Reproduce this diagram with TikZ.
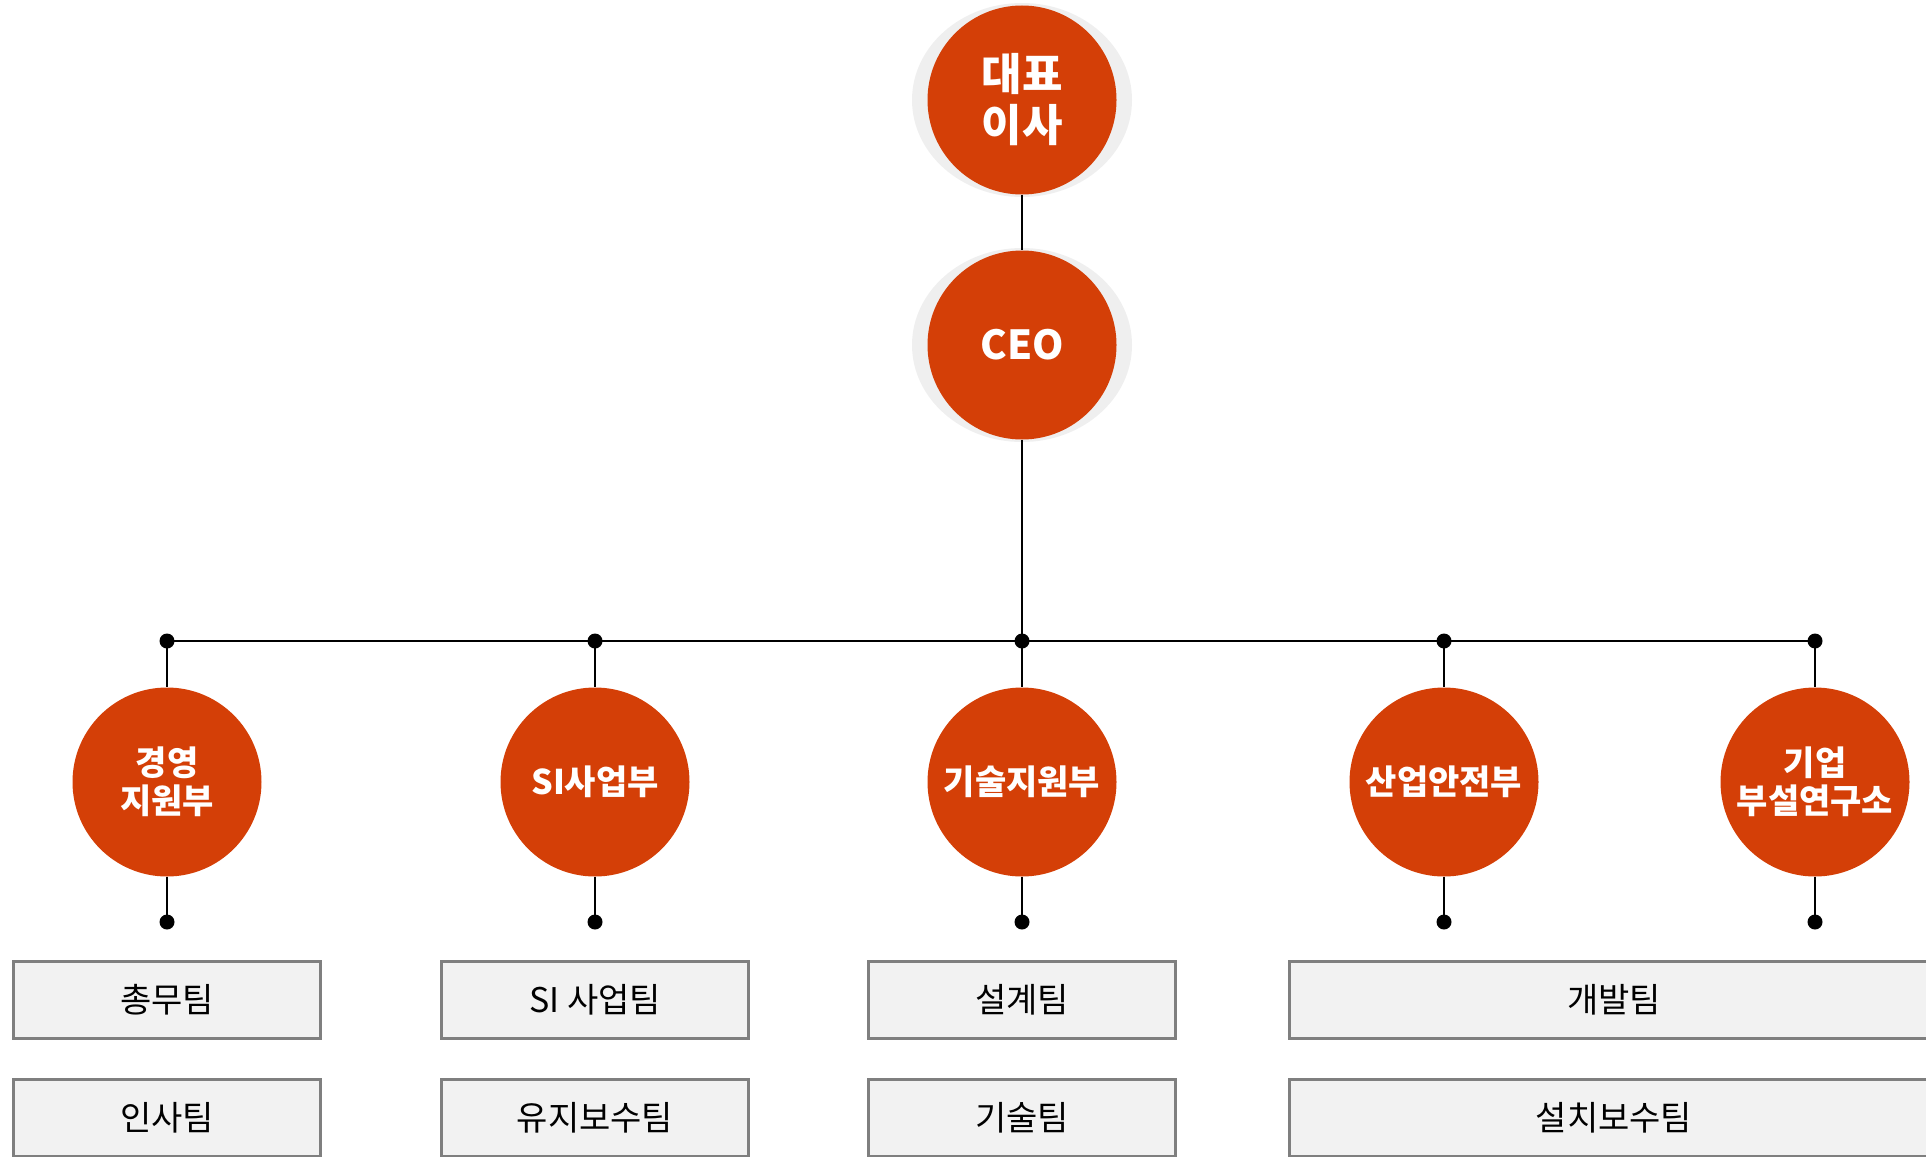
\documentclass[tikz,border=0pt]{standalone}
\usepackage{fontspec}
\usetikzlibrary{shapes.geometric}
\newfontfamily\kr{Noto Sans CJK KR}
\definecolor{orgc}{HTML}{D43F07}
\definecolor{haloc}{HTML}{EFEFEF}
\definecolor{boxfill}{HTML}{F2F2F2}
\definecolor{boxline}{HTML}{7F7F7F}
\begin{document}
\begin{tikzpicture}[x=0.5pt,y=-0.5pt,
  org/.style={circle,fill=orgc,inner sep=0pt,minimum size=94.5pt,text=white,align=center,
    font=\kr\bfseries\fontsize{17}{18.8}\selectfont},
  topc/.style={org,font=\kr\bfseries\fontsize{22}{25.5}\selectfont},
  ceoc/.style={org,font=\kr\bfseries\fontsize{20}{25.5}\selectfont},
  halo/.style={ellipse,fill=haloc,inner sep=0pt,minimum width=110pt,minimum height=97pt},
  team/.style={draw=boxline,line width=1.5pt,fill=boxfill,minimum width=153.5pt,minimum height=38.5pt,
    inner sep=0pt,font=\kr\fontsize{17}{19}\selectfont},
  wide/.style={team,minimum width=324.5pt},
  link/.style={line width=1.3pt,black},
  dotc/.style={circle,fill=black,inner sep=0pt,minimum size=7.5pt}
]
\useasboundingbox (0,0) rectangle (1926,1156);
\clip (0,0) rectangle (1926,1156);

% top circles
\node[halo] (h1) at (1022,100) {};
\node[topc] (ceo0) at (1022,100) {대표\\이사};
\node[halo] (h2) at (1022,345) {};
\node[ceoc] (ceo) at (1022,345) {CEO};

% bus dots
\node[dotc] (t1) at (167,641) {};
\node[dotc] (t2) at (595,641) {};
\node[dotc] (t3) at (1022,641) {};
\node[dotc] (t4) at (1444,641) {};
\node[dotc] (t5) at (1815,641) {};

% departments
\node[org] (d1) at (167,782) {경영\\지원부};
\node[org] (d2) at (595,782) {SI사업부};
\node[org] (d3) at (1022,782) {기술지원부};
\node[org] (d4) at (1444,782) {산업안전부};
\node[org] (d5) at (1815,782) {기업\\부설연구소};

% bottom dots
\node[dotc] (b1) at (167,922) {};
\node[dotc] (b2) at (595,922) {};
\node[dotc] (b3) at (1022,922) {};
\node[dotc] (b4) at (1444,922) {};
\node[dotc] (b5) at (1815,922) {};

% connectors
\draw[link] (ceo0.south) -- (ceo.north);
\draw[link] (ceo.south) -- (t3.center);
\draw[link] (t1.center) -- (t2.center) -- (t3.center) -- (t4.center) -- (t5.center);
\foreach \i in {1,...,5}{
  \draw[link] (t\i.center) -- (d\i.north);
  \draw[link] (d\i.south) -- (b\i.center);
}

% teams
\node[team] (k1) at (167,999.5) {총무팀};
\node[team] (k2) at (167,1118) {인사팀};
\node[team] (k3) at (595,999.5) {SI 사업팀};
\node[team] (k4) at (595,1118) {유지보수팀};
\node[team] (k5) at (1022,999.5) {설계팀};
\node[team] (k6) at (1022,1118) {기술팀};
\node[wide] (k7) at (1614,999.5) {개발팀};
\node[wide] (k8) at (1614,1118) {설치보수팀};
\end{tikzpicture}
\end{document}
